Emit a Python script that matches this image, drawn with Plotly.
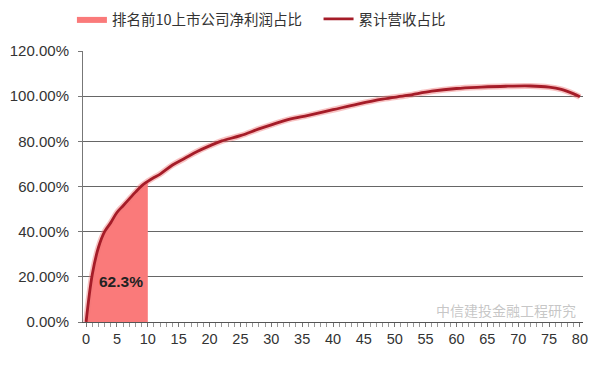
import plotly.graph_objects as go

# Data
rank_x = [0, 1, 2, 3, 4, 5, 6, 7, 8, 9, 10, 11, 12, 14, 16, 18, 20, 22, 25, 28, 30, 33, 36,
          40, 44, 48, 52, 56, 60, 64, 68, 72, 75, 77, 79, 80]
cum_revenue = [0.0, 0.21, 0.33, 0.40, 0.44, 0.485, 0.515, 0.545, 0.575, 0.603, 0.623, 0.64,
               0.655, 0.695, 0.725, 0.755, 0.78, 0.802, 0.825, 0.855, 0.873, 0.898, 0.915,
               0.94, 0.965, 0.987, 1.003, 1.022, 1.034, 1.04, 1.044, 1.045, 1.04, 1.03, 1.01, 0.997]
top_n = 10
top10_label = "62.3%"
x_tick_vals = list(range(0, 81, 5))
y_tick_vals = [0, 0.2, 0.4, 0.6, 0.8, 1.0, 1.2]
y_tick_text = ["0.00%", "20.00%", "40.00%", "60.00%", "80.00%", "100.00%", "120.00%"]
name_fill = "排名前10上市公司净利润占比"
name_line = "累计营收占比"
watermark = "中信建投金融工程研究"

fill_x = [x for x in rank_x if x <= top_n]
fill_y = [y for x, y in zip(rank_x, cum_revenue) if x <= top_n]

fig = go.Figure()
fig.add_trace(go.Scatter(
    x=fill_x, y=fill_y, name=name_fill, mode="lines", legend="legend",
    line=dict(width=0, color="rgb(250,120,120)", shape="spline"),
    fill="tozeroy", fillcolor="rgb(250,122,122)",
))
fig.add_trace(go.Scatter(
    x=rank_x, y=cum_revenue, mode="lines", showlegend=False, hoverinfo="skip",
    line=dict(width=6, color="rgba(240,120,120,0.45)", shape="spline"),
))
fig.add_trace(go.Scatter(
    x=rank_x, y=cum_revenue, name=name_line, mode="lines", legend="legend2",
    line=dict(width=2.8, color="rgb(165,28,40)", shape="spline"),
))

fig.add_annotation(x=5.7, y=0.178, text="<b>" + top10_label + "</b>", showarrow=False,
                   font=dict(family="Arial, Liberation Sans", size=15.5, color="#222"))
fig.add_annotation(x=0.99, xref="paper", xanchor="right", y=0.0, yref="paper",
                   yanchor="bottom", text=watermark, showarrow=False,
                   font=dict(family="Noto Sans CJK SC", size=14, color="rgba(150,150,150,0.55)"))

legend_common = dict(orientation="h", xref="container", yref="container",
                     xanchor="left", y=0.97, yanchor="middle",
                     font=dict(family="Noto Sans CJK SC", size=14.5, color="#333"),
                     bgcolor="rgba(0,0,0,0)", itemwidth=30)

fig.update_layout(
    width=603, height=366,
    margin=dict(l=75, r=28, t=43, b=52, autoexpand=False),
    paper_bgcolor="white", plot_bgcolor="white",
    font=dict(family="Arial, Liberation Sans", size=13, color="#333"),
    legend=dict(x=0.106, **legend_common),
    legend2=dict(x=0.515, **legend_common),
    xaxis=dict(range=[-0.5, 80.5], tickmode="array", tickvals=x_tick_vals,
               ticks="outside", ticklen=4, tickcolor="#777",
               minor=dict(dtick=1, ticks="outside", ticklen=4, tickcolor="#999"),
               showgrid=False, zeroline=False, showline=True, linecolor="#555",
               tickfont=dict(size=14.5, color="#333")),
    yaxis=dict(range=[0, 1.2], tickmode="array", tickvals=y_tick_vals, ticktext=y_tick_text,
               ticks="outside", ticklen=4, tickcolor="#777", ticklabelstandoff=6,
               showgrid=True, gridcolor="#666", gridwidth=1, zeroline=False,
               showline=True, linecolor="#777",
               tickfont=dict(size=15, color="#333")),
)

fig.write_html("out.html")
